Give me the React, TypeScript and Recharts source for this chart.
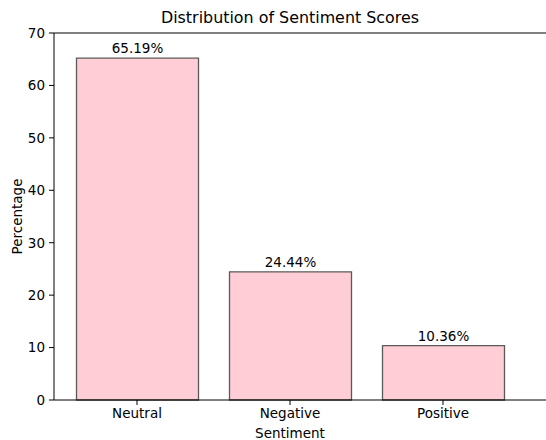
import { Bar, BarChart, LabelList, ReferenceLine, XAxis, YAxis } from "recharts";

const categories = ["Neutral", "Negative", "Positive"];
const percentages = [65.19, 24.44, 10.36];
const yTicks = [0, 10, 20, 30, 40, 50, 60, 70];

const data = categories.map((name, i) => ({ name, value: percentages[i] }));

const font = "DejaVu Sans, sans-serif";

export default function App() {
  return (
    <div style={{ position: "absolute", left: 0, top: 0, width: 546, height: 440, fontFamily: font }}>
      <div
        style={{
          position: "absolute",
          left: 54,
          width: 472,
          top: 8,
          textAlign: "center",
          fontSize: 15.9,
          color: "#000",
        }}
      >
        Distribution of Sentiment Scores
      </div>
      <BarChart
        width={546}
        height={440}
        data={data}
        margin={{ top: 33, right: 0, bottom: 0, left: 0 }}
        style={{ fontFamily: font }}
      >
        <XAxis
          dataKey="name"
          height={40}
          padding={{ left: 6.5, right: 26.5 }}
          stroke="#000"
          tick={{ fill: "#000", fontSize: 13.5 }}
          tickSize={5}
          tickMargin={3}
          label={{ value: "Sentiment", position: "center", dx: -10, dy: 13, fill: "#000", fontSize: 13.5 }}
        />
        <YAxis
          width={54}
          domain={[0, 70]}
          ticks={yTicks}
          stroke="#000"
          tick={{ fill: "#000", fontSize: 13.5 }}
          tickSize={5}
          tickMargin={4}
          label={{ value: "Percentage", angle: -90, position: "center", dx: -10, fill: "#000", fontSize: 13.5 }}
        />
        <ReferenceLine y={70} stroke="#000" />
        <Bar
          dataKey="value"
          barSize={122}
          fill="#ffcdd5"
          stroke="#5a5a5a"
          strokeWidth={1.3}
          isAnimationActive={false}
        >
          <LabelList
            dataKey="value"
            position="top"
            offset={5}
            formatter={(v: number) => `${v.toFixed(2)}%`}
            fill="#000"
            fontSize={13.5}
          />
        </Bar>
      </BarChart>
    </div>
  );
}
